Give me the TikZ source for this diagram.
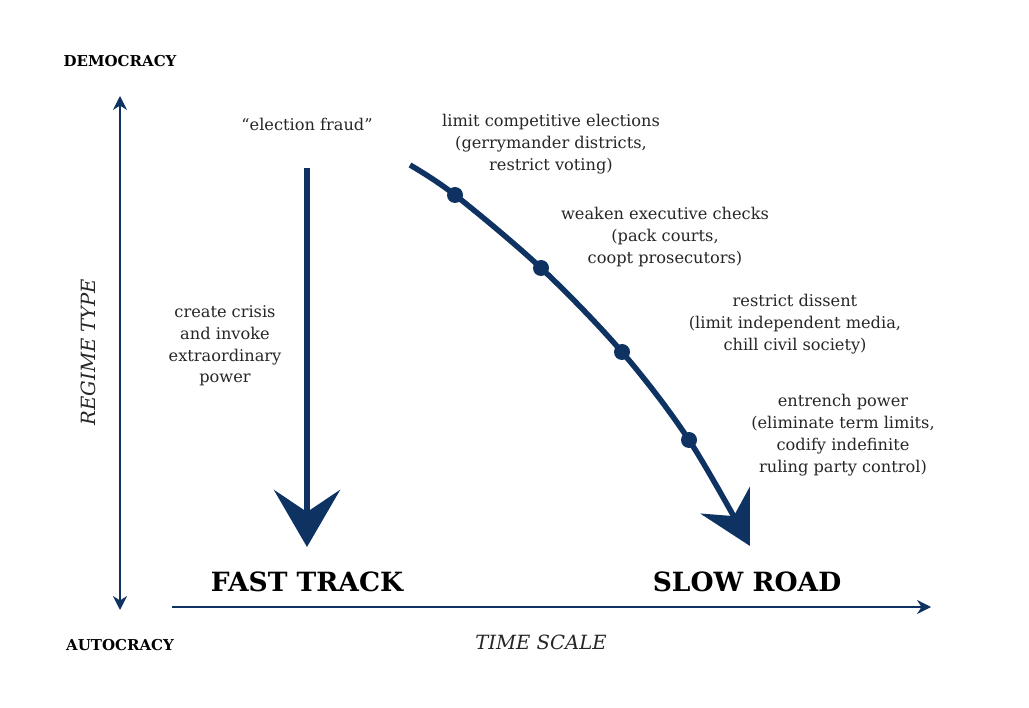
\documentclass[tikz,border=0pt]{standalone}
\usepackage{fontspec}
\setmainfont{DejaVu Serif}
\usetikzlibrary{arrows.meta}
\definecolor{navy}{RGB}{14,50,98}
\begin{document}
\begin{tikzpicture}[x=1pt, y=-1pt,
    stepText/.style={font=\fontsize{16.2}{21.8}\selectfont, align=center, text=black!85},
    axisWord/.style={font=\bfseries\fontsize{15}{18}\selectfont},
    axisName/.style={font=\itshape\fontsize{19.6}{22}\selectfont, text=black!85},
    trackWord/.style={font=\bfseries\fontsize{26.5}{30}\selectfont},
    axisArrow/.style={draw=navy, line width=1.8pt},
    stepDot/.style={circle, fill=navy, inner sep=0pt, minimum size=16pt},
]
\useasboundingbox (0,0) rectangle (1029,708);

% axes
\node[axisWord] (demo) at (120,61) {DEMOCRACY};
\node[axisWord] (auto) at (120,645) {AUTOCRACY};
\coordinate (yTop) at (120,96);
\coordinate (yBot) at (120,610);
\draw[axisArrow, {Stealth[length=14pt,width=14pt]}-{Stealth[length=14pt,width=14pt]}] (yBot) -- (yTop);
\node[axisName, rotate=90] (regime) at (88,352) {REGIME TYPE};
\coordinate (xLeft) at (172,607);
\coordinate (xRight) at (931,607);
\draw[axisArrow, -{Stealth[length=14pt,width=14pt]}] (xLeft) -- (xRight);
\node[axisName] (time) at (541,642) {TIME SCALE};

% the two tracks
\node[trackWord] (fast) at (307,582) {FAST TRACK};
\node[trackWord] (slow) at (747,582) {SLOW ROAD};

% fast track
\node[stepText] (fraud) at (307,124) {“election fraud”};
\coordinate (fastTop) at (307,168);
\coordinate (fastTip) at (307,547);
\draw[navy, line width=6.5pt, -{Stealth[length=57pt,width=66pt,inset=22pt]}] (fastTop) -- (fastTip);
\node[stepText] (crisis) at (225,346) {create crisis\\and invoke\\extraordinary\\power};

% slow road
\coordinate (slowStart) at (410,165);
\node[stepDot] (dotA) at (455,195) {};
\node[stepDot] (dotB) at (541,268) {};
\node[stepDot] (dotC) at (622,352) {};
\node[stepDot] (dotD) at (689,440) {};
\coordinate (slowTip) at (750,546);
\draw[navy, line width=5.5pt, -{Stealth[length=52pt,width=56pt,inset=18pt]}]
    plot[smooth, tension=0.55] coordinates {(slowStart) (dotA.center) (dotB.center) (dotC.center) (dotD.center) (slowTip)};

\node[stepText] (stepA) at (551,144) {limit competitive elections\\(gerrymander districts,\\restrict voting)};
\node[stepText] (stepB) at (665,237) {weaken executive checks\\(pack courts,\\coopt prosecutors)};
\node[stepText] (stepC) at (795,324) {restrict dissent\\(limit independent media,\\chill civil society)};
\node[stepText] (stepD) at (843,435) {entrench power\\(eliminate term limits,\\codify indefinite\\ruling party control)};
\end{tikzpicture}
\end{document}
